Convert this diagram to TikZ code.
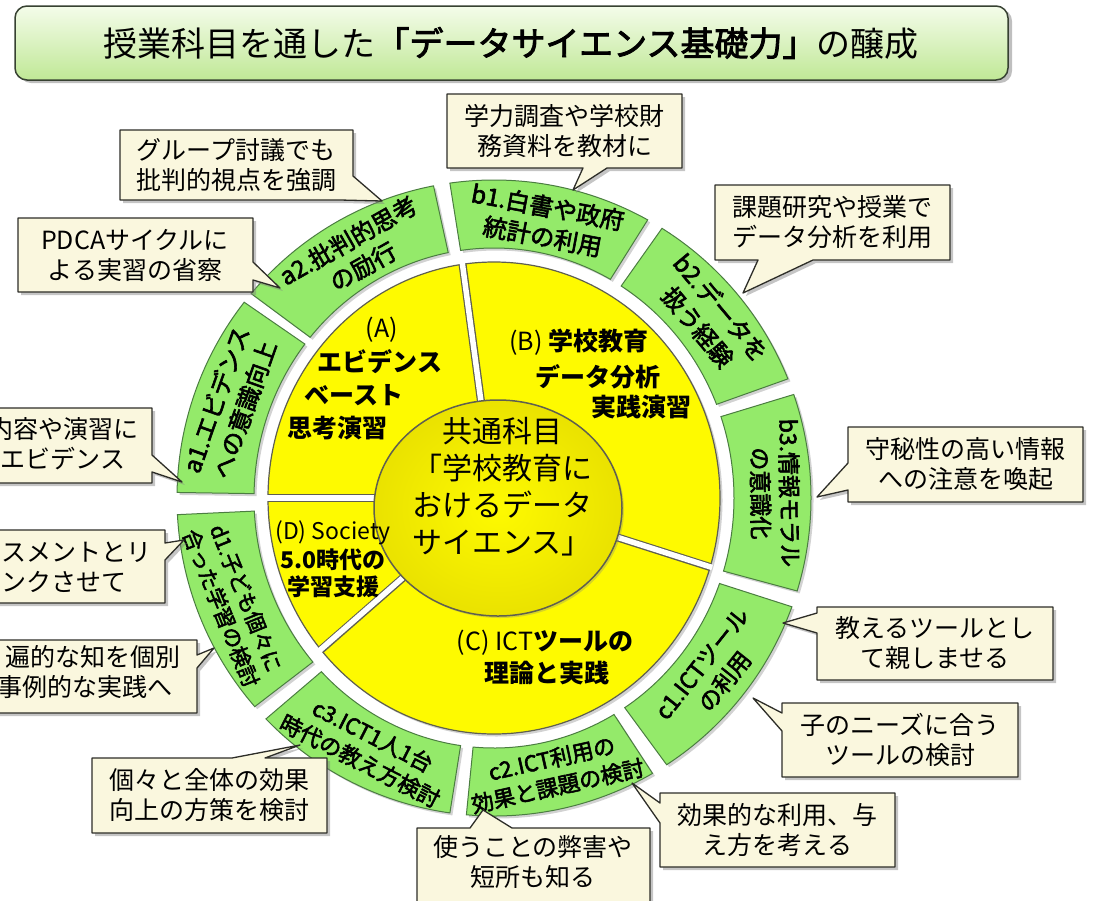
\documentclass[tikz,border=0pt]{standalone}
\usepackage{fontspec}
\setmainfont{Noto Sans CJK JP}
\newfontfamily\gfont[FakeBold=2.5]{Noto Sans CJK JP}
\usetikzlibrary{shadows,calc}
\definecolor{gfill}{RGB}{148,234,106}
\definecolor{gedge}{RGB}{75,125,65}
\definecolor{yfill}{RGB}{254,250,0}
\definecolor{yrim}{RGB}{234,226,0}
\definecolor{yedge}{RGB}{95,95,80}
\definecolor{cfill}{RGB}{250,247,222}
\definecolor{cedge}{RGB}{45,45,40}
\definecolor{tlight}{RGB}{244,252,234}
\definecolor{tdark}{RGB}{192,232,150}
\definecolor{tedge}{RGB}{55,65,50}
\tikzset{
  callout/.style={fill=cfill, draw=cedge, line width=1.3pt, line join=round,
    drop shadow={opacity=0.45, shadow xshift=3pt, shadow yshift=-3pt}},
  ctext/.style={font=\fontsize{25}{30}\selectfont, align=center, inner sep=0pt},
  glabel/.style n args={2}{font=\gfont\fontsize{#1}{#2}\selectfont, align=center, inner sep=0pt},
  ylab/.style={font=\bfseries\fontsize{25}{30}\selectfont, inner sep=0pt},
  ylabd/.style={font=\bfseries\fontsize{23}{28}\selectfont, inner sep=0pt},
  seg/.style={fill=gfill, draw=gedge, line width=1pt,
    drop shadow={opacity=0.35, shadow xshift=2.5pt, shadow yshift=-2.5pt}},
}
\begin{document}
\begin{tikzpicture}[x=1pt, y=-1pt]
\useasboundingbox (0,0) rectangle (1102,900);
\fill[white] (0,0) rectangle (1102,900);

% title
\path[rounded corners=12pt, draw=tedge, line width=1.5pt, top color=tlight, bottom color=tdark,
  drop shadow={opacity=0.5, shadow xshift=4pt, shadow yshift=-3pt}] (15,6) rectangle (1008,80);
\node[font=\fontsize{34}{40}\selectfont, inner sep=0pt] (title) at (511,43)
  {授業科目を通した{\gfont「データサイエンス基礎力」}の醸成};

% circle diagram
\begin{scope}[shift={(494,498)}, y=1pt]
  \foreach \a/\b in {142/179, 101/140, 61/98, 22/58, -17/19, -57/-20, -95/-60, -136/-98, -177/-139}{
    \path[seg] (\a:317 and 318) arc[start angle=\a, end angle=\b, x radius=317, y radius=318]
      -- (\b:240 and 250) arc[start angle=\b, end angle=\a, x radius=240, y radius=250] -- cycle;
  }
  \path[fill=yfill, draw=yedge, line width=1.2pt,
    drop shadow={opacity=0.35, shadow xshift=2.5pt, shadow yshift=-2.5pt}]
    (0,0) ellipse [x radius=226, y radius=236];
  \begin{scope}
    \clip (0,0) ellipse [x radius=228, y radius=238];
    \foreach \t in {98,-17,-140,180}{
      \draw[yedge, line width=8pt] (0,0) -- (\t:226 and 236);
      \draw[white, line width=5.5pt] (0,0) -- (\t:240 and 250);
    }
  \end{scope}
  \path[draw=yedge, line width=1.5pt, inner color=yfill, outer color=yrim,
    drop shadow={opacity=0.3, shadow xshift=2pt, shadow yshift=-2pt}]
    (4,-10) ellipse [x radius=124, y radius=108];

  \node[glabel={24}{30}, rotate=70.5] (la1) at (160.5:280) {a1.エビデンス\\への意識向上};
  \node[glabel={24}{30}, rotate=29.5] (la2) at (119.5:281) {a2.批判的思考\\の励行};
  \node[glabel={24}{30}, rotate=-10.5] (lb1) at (79.5:281) {b1.白書や政府\\統計の利用};
  \node[glabel={24}{30}, rotate=-50] (lb2) at (40:281) {b2.データを\\扱う経験};
  \node[glabel={23}{29}, rotate=-89] (lb3) at (1:281) {b3.情報モラル\\の意識化};
  \node[glabel={23}{29}, rotate=51.5] (lc1) at (-38.5:281) {c1.ICTツール\\の利用};
  \node[glabel={22}{28}, rotate=12.5] (lc2) at (-77.5:281) {c2.ICT利用の\\効果と課題の検討};
  \node[glabel={22}{28}, rotate=-27] (lc3) at (-117:281) {c3.ICT1人1台\\時代の教え方検討};
  \node[glabel={21}{27}, rotate=-68] (ld1) at (-158:281) {d1.子ども個々に\\合った学習の検討};
\end{scope}

% centre text
\node[font=\fontsize{30}{37}\selectfont, align=center, inner sep=0pt] (core) at (502,487)
  {共通科目\\「学校教育に\\おけるデータ\\サイエンス」};

% yellow sector texts
\node[ylab, font=\fontsize{25}{30}\selectfont] (yA0) at (382,330) {(A)};
\node[ylab] (yA1) at (380,362) {エビデンス};
\node[ylab] (yA2) at (354,395) {ベースト};
\node[ylab] (yA3) at (337,428) {思考演習};
\node[ylab] (yB1) at (579,342) {{\mdseries (B)} 学校教育};
\node[ylab] (yB2) at (598,377) {データ分析};
\node[ylab] (yB3) at (641,407) {実践演習};
\node[ylab] (yC1) at (545,643) {{\mdseries (C) ICT}ツールの};
\node[ylab] (yC2) at (547,673) {理論と実践};
\node[ylabd] (yD1) at (333,533) {{\mdseries (D) Society}};
\node[ylabd] (yD2) at (333,560) {5.0時代の};
\node[ylabd] (yD3) at (333,587) {学習支援};

% callouts
\path[callout] (447,94) -- (682,94) -- (682,168) -- (607,168) -- (573,190) -- (583,168) -- (447,168) -- cycle;
\node[ctext] (k1) at (564.5,131) {学力調査や学校財\\務資料を教材に};

\path[callout] (120,130) -- (353,130) -- (353,176) -- (382,201) -- (340,200) -- (120,200) -- cycle;
\node[ctext] (k2) at (236,165) {グループ討議でも\\批判的視点を強調};

\path[callout] (18,218) -- (253,218) -- (253,262) -- (280,288) -- (253,280) -- (253,292) -- (18,292) -- cycle;
\node[ctext] (k3) at (135,255) {PDCAサイクルに\\よる実習の省察};

\path[callout] (-30,408) -- (152,408) -- (152,455) -- (182,482) -- (152,472) -- (152,483) -- (-30,483) -- cycle;
\node[ctext] (k4) at (63,444) {内容や演習に\\エビデンス};

\path[callout] (-30,530) -- (165,530) -- (165,543) -- (184,540) -- (165,560) -- (165,603) -- (-30,603) -- cycle;
\node[ctext, align=left, anchor=west] (k5) at (1,567) {スメントとリ\\ンクさせて};

\path[callout] (-30,640) -- (197,640) -- (197,655) -- (214,648) -- (197,668) -- (197,713) -- (-30,713) -- cycle;
\node[ctext, align=left, anchor=west] (k6) at (-3,672) {\hspace*{8pt}遍的な知を個別\\事例的な実践へ};

\path[callout] (92,758) -- (232,758) -- (300,745) -- (265,758) -- (327,758) -- (327,833) -- (92,833) -- cycle;
\node[ctext] (k7) at (209.5,795.5) {個々と全体の効果\\向上の方策を検討};

\path[callout] (417,828) -- (470,828) -- (483,810) -- (512,828) -- (650,828) -- (650,906) -- (417,906) -- cycle;
\node[ctext] (k8) at (533,862) {使うことの弊害や\\短所も知る};

\path[callout] (660,793) -- (895,793) -- (895,867) -- (660,867) -- (660,823) -- (632,783) -- (660,803) -- cycle;
\node[ctext] (k9) at (777.5,830) {効果的な利用、与\\え方を考える};

\path[callout] (782,703) -- (1018,703) -- (1018,777) -- (782,777) -- (782,731) -- (753,698) -- (782,713) -- cycle;
\node[ctext] (k10) at (900,740) {子のニーズに合う\\ツールの検討};

\path[callout] (817,607) -- (1053,607) -- (1053,680) -- (817,680) -- (817,633) -- (783,623) -- (817,613) -- cycle;
\node[ctext] (k11) at (935,643.5) {教えるツールとし\\て親しませる};

\path[callout] (848,427) -- (1083,427) -- (1083,502) -- (848,502) -- (848,490) -- (817,497) -- (848,463) -- cycle;
\node[ctext] (k12) at (965.5,464.5) {守秘性の高い情報\\への注意を喚起};

\path[callout] (715,185) -- (950,185) -- (950,260) -- (813,260) -- (743,293) -- (758,260) -- (715,260) -- cycle;
\node[ctext] (k13) at (832.5,222.5) {課題研究や授業で\\データ分析を利用};
\end{tikzpicture}
\end{document}
